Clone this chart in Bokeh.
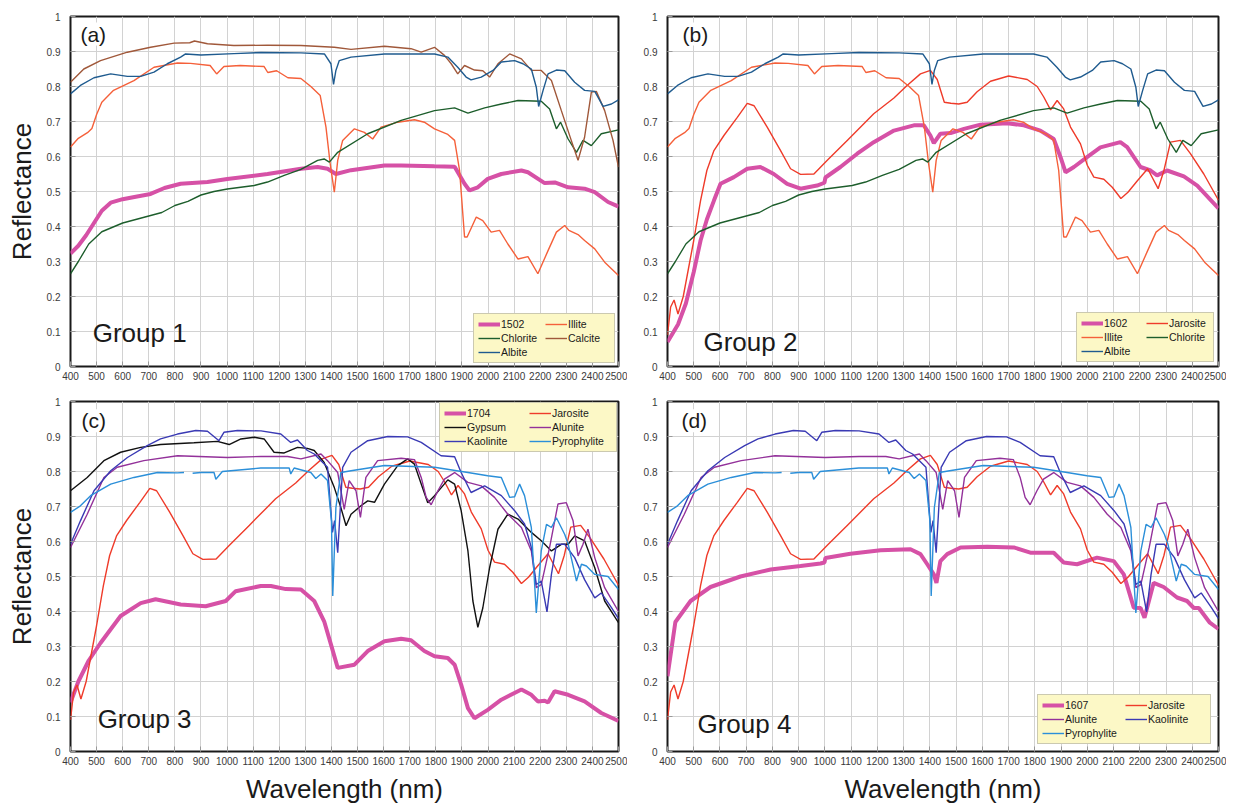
from bokeh.plotting import figure
from bokeh.models import Range1d, FixedTicker, Label, Legend, LegendItem
from bokeh.layouts import gridplot
from bokeh.embed import file_html
from bokeh.resources import INLINE

NAN = float("nan")
FONT = "Liberation Sans"

# ---------------- tick labels ----------------
X_TICKS = [400, 500, 600, 700, 800, 900, 1000, 1100, 1200, 1300, 1400, 1500,
           1600, 1700, 1800, 1900, 2000, 2100, 2200, 2300, 2400, 2500]
Y_TICKS = [0, 0.1, 0.2, 0.3, 0.4, 0.5, 0.6, 0.7, 0.8, 0.9, 1]
Y_TICK_LABELS = ["0", "0.1", "0.2", "0.3", "0.4", "0.5", "0.6", "0.7", "0.8", "0.9", "1"]

# ---------------- reference spectra ----------------
ILLITE_WL = [400, 430, 465, 482, 500, 520, 565, 643, 720, 810, 860, 935, 960, 988, 1050, 1142, 1156,
             1190, 1233, 1283, 1321, 1357, 1379, 1395, 1411, 1424, 1443, 1488, 1526, 1558, 1590, 1654,
             1718, 1756, 1795, 1846, 1872, 1891, 1910, 1920, 1955, 1980, 2012, 2044, 2076, 2115, 2153,
             2191, 2230, 2262, 2294, 2310, 2345, 2370, 2409, 2447, 2500]
ILLITE_R = [0.627, 0.652, 0.668, 0.68, 0.72, 0.755, 0.789, 0.817, 0.855, 0.867, 0.866, 0.86, 0.836, 0.857,
            0.86, 0.857, 0.84, 0.845, 0.825, 0.823, 0.80, 0.774, 0.684, 0.58, 0.498, 0.589, 0.646, 0.679,
            0.669, 0.65, 0.684, 0.698, 0.705, 0.698, 0.679, 0.663, 0.646, 0.56, 0.37, 0.37, 0.427, 0.417,
            0.384, 0.389, 0.35, 0.307, 0.314, 0.265, 0.331, 0.384, 0.403, 0.389, 0.377, 0.36, 0.336,
            0.298, 0.26]

ALBITE_WL = [400, 438, 490, 554, 618, 669, 720, 771, 822, 841, 900, 1026, 1130, 1283, 1373, 1398, 1408,
             1417, 1430, 1475, 1603, 1795, 1846, 1884, 1916, 1935, 1974, 2019, 2051, 2102, 2134, 2166,
             2185, 2194, 2211, 2230, 2262, 2294, 2332, 2370, 2409, 2441, 2473, 2500]
ALBITE_R = [0.779, 0.803, 0.825, 0.836, 0.829, 0.829, 0.841, 0.865, 0.884, 0.893, 0.89, 0.894, 0.897,
            0.896, 0.893, 0.865, 0.806, 0.846, 0.874, 0.884, 0.893, 0.893, 0.884, 0.855, 0.827, 0.819,
            0.827, 0.846, 0.87, 0.874, 0.865, 0.85, 0.798, 0.743, 0.789, 0.836, 0.847, 0.845, 0.812,
            0.789, 0.786, 0.743, 0.75, 0.762]

CALCITE_WL = [400, 451, 515, 618, 707, 797, 857, 875, 925, 1026, 1156, 1283, 1411, 1475, 1603, 1705,
              1744, 1795, 1833, 1859, 1884, 1910, 1948, 1980, 2006, 2038, 2083, 2128, 2166, 2204, 2243,
              2281, 2319, 2345, 2370, 2396, 2415, 2447, 2479, 2500]
CALCITE_R = [0.812, 0.85, 0.874, 0.898, 0.912, 0.924, 0.925, 0.93, 0.922, 0.917, 0.918, 0.917, 0.912,
             0.906, 0.915, 0.908, 0.898, 0.912, 0.889, 0.865, 0.836, 0.86, 0.847, 0.845, 0.827, 0.865,
             0.893, 0.879, 0.846, 0.846, 0.817, 0.731, 0.646, 0.589, 0.655, 0.784, 0.786, 0.731, 0.646,
             0.57]

CHLORITE_WL = [400, 430, 470, 520, 600, 700, 750, 800, 850, 900, 950, 1001, 1104, 1155, 1219, 1283,
               1347, 1372, 1392, 1424, 1539, 1667, 1795, 1872, 1923, 1987, 2051, 2115, 2204, 2236, 2262,
               2278, 2307, 2339, 2364, 2396, 2434, 2500]
CHLORITE_R = [0.265, 0.30, 0.35, 0.385, 0.41, 0.43, 0.44, 0.46, 0.472, 0.49, 0.5, 0.507, 0.517, 0.527,
              0.546, 0.563, 0.589, 0.593, 0.584, 0.612, 0.665, 0.703, 0.731, 0.739, 0.724, 0.739, 0.75,
              0.76, 0.758, 0.736, 0.679, 0.698, 0.65, 0.612, 0.646, 0.631, 0.665, 0.676]

JAROSITE_WL = [400, 412, 425, 440, 460, 480, 500, 526, 550, 577, 615, 666, 704, 730, 780, 831, 869, 907,
               958, 1009, 1085, 1186, 1263, 1313, 1364, 1402, 1428, 1455, 1480, 1510, 1542, 1580, 1631,
               1700, 1771, 1809, 1834, 1860, 1885, 1910, 1936, 1974, 2000, 2025, 2063, 2095, 2128, 2155,
               2190, 2230, 2270, 2292, 2317, 2355, 2393, 2444, 2500]
JAROSITE_R = [0.09, 0.17, 0.19, 0.15, 0.2, 0.28, 0.36, 0.474, 0.56, 0.617, 0.66, 0.712, 0.752, 0.745,
              0.684, 0.617, 0.565, 0.549, 0.55, 0.589, 0.646, 0.722, 0.767, 0.803, 0.836, 0.846, 0.82,
              0.755, 0.752, 0.75, 0.755, 0.785, 0.815, 0.83, 0.82, 0.80, 0.77, 0.733, 0.76, 0.736, 0.684,
              0.636, 0.575, 0.541, 0.535, 0.512, 0.48, 0.498, 0.53, 0.565, 0.508, 0.56, 0.641, 0.646,
              0.608, 0.55, 0.475]

GYPSUM_WL = [400, 464, 528, 592, 669, 745, 873, 963, 1008, 1053, 1104, 1142, 1180, 1219, 1270, 1308,
             1334, 1372, 1411, 1436, 1456, 1475, 1513, 1539, 1565, 1603, 1654, 1692, 1718, 1744, 1769,
             1795, 1846, 1872, 1897, 1923, 1942, 1961, 1980, 2006, 2038, 2076, 2115, 2166, 2204, 2243,
             2281, 2307, 2332, 2370, 2409, 2447, 2500]
GYPSUM_R = [0.745, 0.783, 0.831, 0.855, 0.869, 0.877, 0.882, 0.886, 0.877, 0.893, 0.898, 0.893, 0.855,
            0.853, 0.869, 0.866, 0.86, 0.826, 0.754, 0.697, 0.645, 0.678, 0.702, 0.716, 0.712, 0.764,
            0.817, 0.836, 0.821, 0.764, 0.711, 0.731, 0.776, 0.764, 0.688, 0.573, 0.43, 0.355, 0.41,
            0.525, 0.635, 0.678, 0.664, 0.626, 0.602, 0.573, 0.592, 0.592, 0.616, 0.602, 0.525, 0.43,
            0.368]

KAOLINITE_WL = [400, 438, 490, 554, 618, 694, 745, 810, 880, 925, 969, 988, 1040, 1130, 1206, 1244,
                1270, 1308, 1334, 1385, 1404, 1412, 1424, 1443, 1475, 1539, 1616, 1692, 1744, 1820, 1872,
                1897, 1935, 1987, 2051, 2102, 2140, 2166, 2185, 2204, 2226, 2243, 2262, 2294, 2332, 2370,
                2409, 2434, 2473, 2500]
KAOLINITE_R = [0.592, 0.659, 0.745, 0.802, 0.84, 0.874, 0.893, 0.907, 0.917, 0.915, 0.888, 0.912, 0.917,
               0.916, 0.907, 0.883, 0.89, 0.86, 0.85, 0.812, 0.626, 0.66, 0.568, 0.812, 0.855, 0.888,
               0.9, 0.899, 0.883, 0.845, 0.842, 0.797, 0.74, 0.759, 0.731, 0.688, 0.65, 0.583, 0.477,
               0.487, 0.399, 0.506, 0.592, 0.592, 0.554, 0.491, 0.439, 0.453, 0.411, 0.38]

ALUNITE_WL = [400, 464, 528, 579, 681, 810, 1001, 1130, 1232, 1283, 1360, 1385, 1424, 1449, 1468, 1494,
              1511, 1532, 1577, 1667, 1718, 1744, 1763, 1782, 1808, 1833, 1872, 1923, 1974, 2025, 2076,
              2128, 2166, 2185, 2204, 2236, 2268, 2300, 2326, 2345, 2364, 2383, 2409, 2447, 2500]
ALUNITE_R = [0.583, 0.678, 0.783, 0.812, 0.831, 0.845, 0.84, 0.843, 0.843, 0.836, 0.85, 0.831, 0.797,
             0.692, 0.774, 0.745, 0.669, 0.783, 0.831, 0.838, 0.834, 0.783, 0.726, 0.705, 0.745, 0.778,
             0.797, 0.769, 0.759, 0.726, 0.678, 0.64, 0.573, 0.468, 0.477, 0.583, 0.707, 0.711, 0.659,
             0.559, 0.592, 0.635, 0.554, 0.468, 0.40]

PYRO_WL = [400, 438, 477, 554, 643, 733, 810, 835, 850, 868, 900, 950, 957, 982, 1129, 1238, 1244, 1257,
           1321, 1340, 1360, 1385, 1400, 1405, 1417, 1436, 1475, 1603, 1795, 1923, 1999, 2051, 2083,
           2102, 2121, 2140, 2166, 2185, 2204, 2224, 2243, 2262, 2294, 2307, 2339, 2358, 2377, 2409,
           2460, 2500]
PYRO_R = [0.683, 0.702, 0.731, 0.764, 0.783, 0.797, 0.796, 0.797, NAN, 0.795, 0.797, 0.797, 0.778, 0.80,
          0.81, 0.81, 0.793, 0.81, 0.797, 0.78, 0.793, 0.774, 0.659, 0.444, 0.697, 0.797, 0.802, 0.817,
          0.812, 0.797, 0.788, 0.783, 0.726, 0.728, 0.764, 0.731, 0.64, 0.396, 0.573, 0.649, 0.64, 0.668,
          0.62, 0.593, 0.487, 0.535, 0.53, 0.506, 0.5, 0.463]

# ---------------- samples ----------------
S1502_WL = [400, 430, 460, 490, 520, 554, 600, 650, 707, 760, 822, 925, 1001, 1155, 1283, 1347, 1385,
            1417, 1475, 1603, 1667, 1795, 1872, 1910, 1929, 1961, 1999, 2051, 2128, 2153, 2217, 2256,
            2307, 2370, 2409, 2460, 2500]
S1502_R = [0.323, 0.345, 0.375, 0.41, 0.445, 0.468, 0.478, 0.485, 0.493, 0.51, 0.522, 0.527, 0.536, 0.55,
           0.565, 0.57, 0.565, 0.55, 0.561, 0.574, 0.574, 0.572, 0.571, 0.522, 0.503, 0.512, 0.536, 0.55,
           0.56, 0.555, 0.524, 0.526, 0.512, 0.508, 0.498, 0.47, 0.457]

S1602_WL = [400, 440, 470, 500, 526, 550, 577, 602, 653, 704, 754, 805, 856, 907, 970, 998, 1002, 1059,
            1123, 1186, 1263, 1339, 1377, 1402, 1415, 1440, 1479, 1530, 1593, 1695, 1758, 1821, 1872,
            1898, 1917, 1949, 1999, 2050, 2126, 2152, 2203, 2241, 2266, 2304, 2368, 2419, 2500]
S1602_R = [0.07, 0.12, 0.18, 0.27, 0.36, 0.42, 0.474, 0.522, 0.541, 0.565, 0.57, 0.55, 0.522, 0.508,
           0.517, 0.525, 0.54, 0.57, 0.608, 0.641, 0.674, 0.689, 0.689, 0.66, 0.638, 0.665, 0.667, 0.679,
           0.691, 0.695, 0.689, 0.674, 0.65, 0.598, 0.555, 0.57, 0.598, 0.626, 0.641, 0.627, 0.57, 0.56,
           0.546, 0.56, 0.543, 0.517, 0.452]

S1704_WL = [400, 430, 470, 515, 592, 669, 726, 822, 918, 995, 1033, 1129, 1168, 1225, 1283, 1334, 1372,
            1398, 1424, 1488, 1539, 1603, 1667, 1705, 1756, 1795, 1846, 1872, 1897, 1923, 1948, 1999,
            2051, 2128, 2166, 2191, 2217, 2230, 2255, 2307, 2370, 2434, 2500]
S1704_R = [0.14, 0.2, 0.26, 0.31, 0.387, 0.424, 0.435, 0.42, 0.415, 0.43, 0.458, 0.473, 0.473, 0.464,
           0.463, 0.43, 0.372, 0.306, 0.239, 0.248, 0.287, 0.315, 0.322, 0.318, 0.287, 0.272, 0.267,
           0.248, 0.191, 0.124, 0.095, 0.119, 0.148, 0.177, 0.162, 0.143, 0.145, 0.14, 0.172, 0.162,
           0.143, 0.11, 0.087]

S1607_WL = [400, 430, 488, 564, 678, 793, 907, 983, 998, 1002, 1097, 1212, 1326, 1364, 1390, 1415, 1425,
            1440, 1466, 1517, 1618, 1720, 1783, 1872, 1910, 1961, 2037, 2101, 2139, 2177, 2203, 2218,
            2253, 2291, 2342, 2380, 2406, 2425, 2467, 2500]
S1607_R = [0.215, 0.37, 0.43, 0.47, 0.50, 0.52, 0.53, 0.537, 0.54, 0.553, 0.565, 0.575, 0.578, 0.564,
           0.535, 0.506, 0.482, 0.544, 0.564, 0.583, 0.585, 0.583, 0.568, 0.568, 0.54, 0.535, 0.554,
           0.544, 0.506, 0.411, 0.41, 0.382, 0.482, 0.47, 0.44, 0.43, 0.41, 0.41, 0.368, 0.35]

# ---------------- colours ----------------
C_SAMPLE = "#d651a6"
C_ILLITE = "#f5603a"
C_JAROSITE = "#ef3b2a"
C_CHLORITE = "#1d5e2c"
C_CALCITE = "#a0583a"
C_ALBITE = "#1f5b8f"
C_GYPSUM = "#111111"
C_ALUNITE = "#93319a"
C_KAOLINITE = "#3a3ab4"
C_PYRO = "#2b8fd9"


def make_panel(series, tag, tag_pos, group, group_pos, legend_loc, legend_margin, legend_label_w,
               left_label, bottom_label, frame_w, border_left, border_right, border_top, border_bottom):
    p = figure(frame_width=frame_w, frame_height=350, output_backend="svg", toolbar_location=None,
               x_range=Range1d(400, 2500), y_range=Range1d(0, 1),
               min_border_left=border_left, min_border_right=border_right, min_border_top=border_top,
               min_border_bottom=border_bottom)
    p.background_fill_color = "white"
    p.border_fill_color = "white"
    p.outline_line_color = "#1a1a1a"
    p.outline_line_width = 2
    p.xaxis.ticker = FixedTicker(ticks=X_TICKS)
    p.yaxis.ticker = FixedTicker(ticks=Y_TICKS)
    p.yaxis.major_label_overrides = {t: s for t, s in zip(Y_TICKS, Y_TICK_LABELS)}
    for ax in (p.xaxis[0], p.yaxis[0]):
        ax.axis_line_color = None
        ax.major_tick_in = 5
        ax.major_tick_out = 0
        ax.major_tick_line_color = "#999999"
        ax.minor_tick_line_color = None
        ax.major_label_text_font = FONT
        ax.major_label_text_font_size = "10px"
        ax.major_label_text_color = "#3a3a3a"
        ax.axis_label_text_font = FONT
        ax.axis_label_text_font_style = "normal"
        ax.axis_label_text_font_size = "26px"
        ax.axis_label_text_color = "#1a1a1a"
    p.xaxis.major_label_standoff = 5
    p.yaxis.major_label_standoff = 10
    if left_label:
        p.yaxis.axis_label = "Reflectance"
        p.yaxis.axis_label_standoff = 7
    if bottom_label:
        p.xaxis.axis_label = "Wavelength (nm)"
        p.xaxis.axis_label_standoff = 6
    p.xgrid.grid_line_color = "#d2d2d2"
    p.ygrid.grid_line_color = "#d2d2d2"

    items = []
    for name, wl, r, color, width in series:
        rend = p.line(wl, r, line_color=color, line_width=width)
        items.append(LegendItem(label=name, renderers=[rend]))

    # legend fills column-first: reorder so it reads row by row
    leg = Legend(items=items[0::2] + items[1::2], location=legend_loc, orientation="vertical", ncols=2)
    leg.background_fill_color = "#fcf8c6"
    leg.background_fill_alpha = 1
    leg.border_line_color = "#9a9a9a"
    leg.border_line_width = 1
    leg.label_text_font = FONT
    leg.label_text_font_size = "10.5px"
    leg.label_text_color = "#1a1a1a"
    leg.label_height = 12
    leg.label_width = legend_label_w
    leg.glyph_height = 12
    leg.glyph_width = 22
    leg.label_standoff = 1
    leg.spacing = 2
    leg.padding = 4
    leg.margin = legend_margin
    p.add_layout(leg)

    p.add_layout(Label(x=tag_pos[0], y=tag_pos[1], text=tag, text_font=FONT, text_font_size="21px",
                       text_baseline="middle", text_color="#1a1a1a",
                       background_fill_color="white"))
    p.add_layout(Label(x=group_pos[0], y=group_pos[1], text=group, text_font=FONT,
                       text_font_size="26px", text_baseline="middle", text_color="#1a1a1a"))
    return p


pa = make_panel([("1502", S1502_WL, S1502_R, C_SAMPLE, 4),
                 ("Illite", ILLITE_WL, ILLITE_R, C_ILLITE, 1.4),
                 ("Chlorite", CHLORITE_WL, CHLORITE_R, C_CHLORITE, 1.4),
                 ("Calcite", CALCITE_WL, CALCITE_R, C_CALCITE, 1.4),
                 ("Albite", ALBITE_WL, ALBITE_R, C_ALBITE, 1.4)],
                "(a)", (438, 0.95), "Group 1", (485, 0.095), "bottom_right", 3, 42, True, False,
                548, 70, 9, 16, 27)
pb = make_panel([("1602", S1602_WL, S1602_R, C_SAMPLE, 4),
                 ("Jarosite", JAROSITE_WL, JAROSITE_R, C_JAROSITE, 1.4),
                 ("Illite", ILLITE_WL, ILLITE_R, C_ILLITE, 1.4),
                 ("Chlorite", CHLORITE_WL, CHLORITE_R, C_CHLORITE, 1.4),
                 ("Albite", ALBITE_WL, ALBITE_R, C_ALBITE, 1.4)],
                "(b)", (457, 0.95), "Group 2", (537, 0.07), "bottom_right", 4, 40, False, False,
                551, 40, 8, 16, 27)
pc = make_panel([("1704", S1704_WL, S1704_R, C_SAMPLE, 4),
                 ("Jarosite", JAROSITE_WL, JAROSITE_R, C_JAROSITE, 1.4),
                 ("Gypsum", GYPSUM_WL, GYPSUM_R, C_GYPSUM, 1.4),
                 ("Alunite", ALUNITE_WL, ALUNITE_R, C_ALUNITE, 1.4),
                 ("Kaolinite", KAOLINITE_WL, KAOLINITE_R, C_KAOLINITE, 1.4),
                 ("Pyrophylite", PYRO_WL, PYRO_R, C_PYRO, 1.4)],
                "(c)", (442, 0.945), "Group 3", (504, 0.092), "top_right", 1, 60, True, True,
                548, 70, 9, 8, 55)
pd_ = make_panel([("1607", S1607_WL, S1607_R, C_SAMPLE, 4),
                  ("Jarosite", JAROSITE_WL, JAROSITE_R, C_JAROSITE, 1.4),
                  ("Alunite", ALUNITE_WL, ALUNITE_R, C_ALUNITE, 1.4),
                  ("Kaolinite", KAOLINITE_WL, KAOLINITE_R, C_KAOLINITE, 1.4),
                  ("Pyrophylite", PYRO_WL, PYRO_R, C_PYRO, 1.4)],
                 "(d)", (453, 0.945), "Group 4", (514, 0.08), "bottom_right", 7, 58, False, True,
                 551, 40, 8, 8, 55)

grid = gridplot([[pa, pb], [pc, pd_]], toolbar_location=None)
open("out.html", "w").write(file_html(grid, INLINE))
